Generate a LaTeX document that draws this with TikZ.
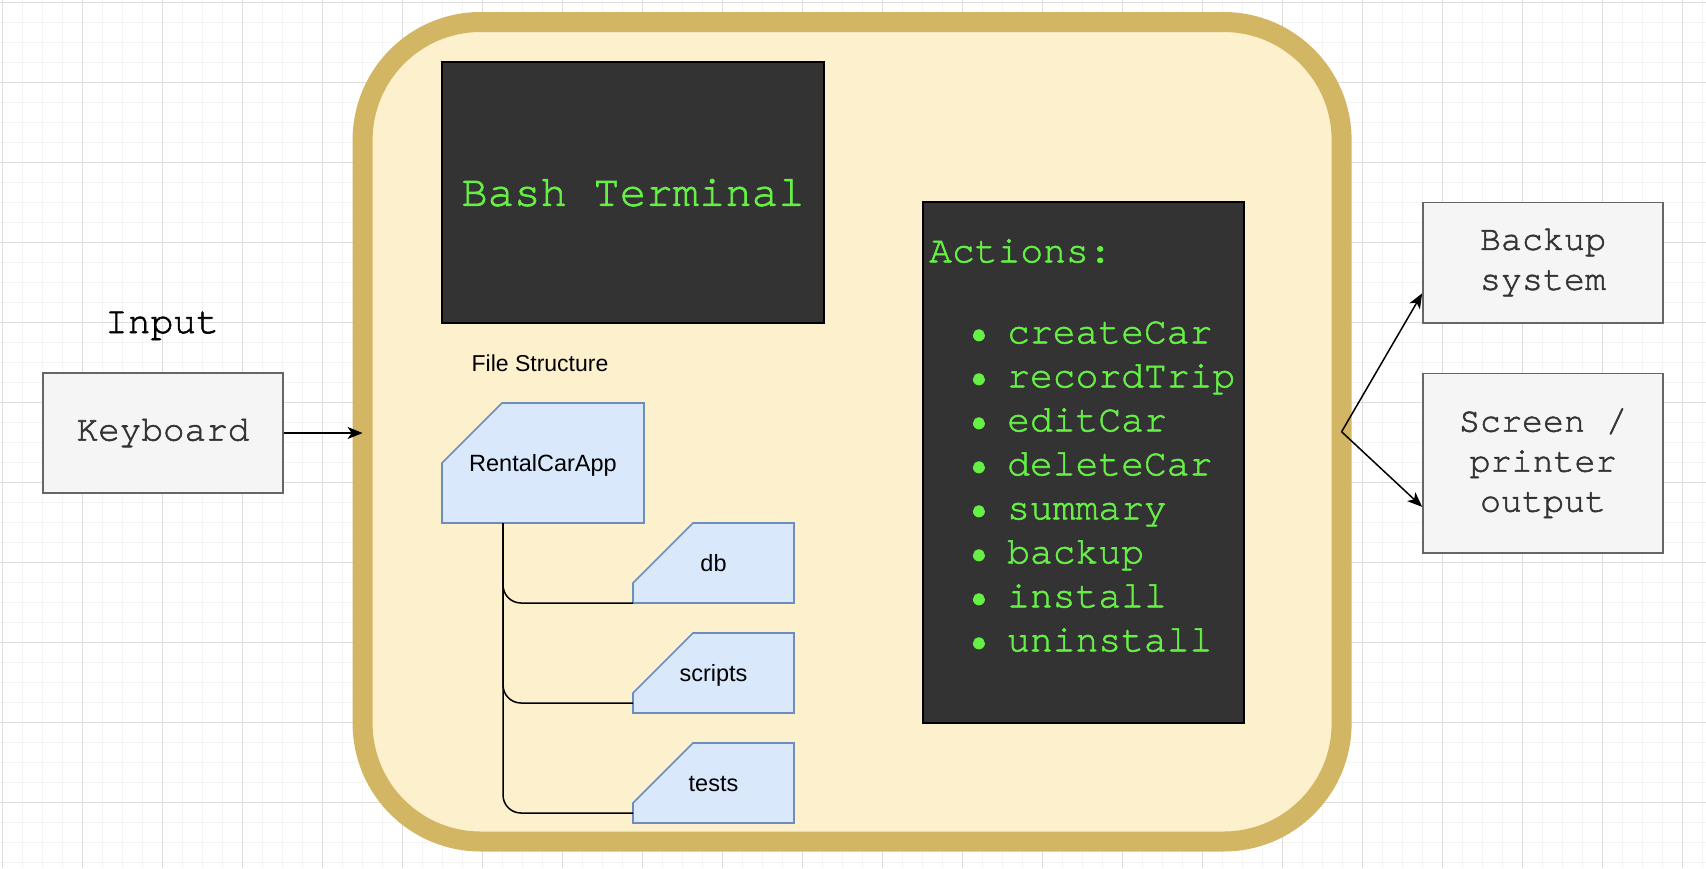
\documentclass[tikz,border=0pt]{standalone}
\usepackage{fontspec}
\setmainfont{Liberation Sans}
\newfontfamily\monofnt[BoldFont=texgyrecursor-regular.otf, BoldFeatures={FakeBold=1.5}]{texgyrecursor-regular.otf}
\usetikzlibrary{arrows.meta}
\definecolor{gridminor}{HTML}{F4F4F4}
\definecolor{gridmajor}{HTML}{DDDDDD}
\definecolor{contfill}{HTML}{FDF1CD}
\definecolor{contline}{HTML}{D3B664}
\definecolor{termfill}{HTML}{333333}
\definecolor{termgreen}{HTML}{66F046}
\definecolor{boxfill}{HTML}{F5F5F5}
\definecolor{boxline}{HTML}{666666}
\definecolor{boxtext}{HTML}{333333}
\definecolor{cardfill}{HTML}{DAE8FC}
\definecolor{cardline}{HTML}{6C8EBF}
\pgfdeclarelayer{gridlayer}
\pgfdeclarelayer{cardlayer}
\pgfsetlayers{gridlayer,cardlayer,main}
\begin{document}
\begin{tikzpicture}[x=1pt,y=-1pt,
  container/.style={draw=contline, fill=contfill, line width=20pt, rounded corners=118pt,
    minimum width=979pt, minimum height=819.5pt, inner sep=0pt, outer sep=0pt},
  term/.style={draw=black, fill=termfill, line width=2pt, inner sep=0pt, text=termgreen},
  greybox/.style={draw=boxline, fill=boxfill, line width=1.6pt, minimum width=240pt,
    text=boxtext, inner sep=0pt, align=center},
  card/.style={minimum width=161pt, minimum height=80pt, inner sep=0pt, outer sep=0pt,
    text height=17pt, text depth=0pt, font=\fontsize{23.5}{28}\selectfont},
  cardshape/.style={fill=cardfill, draw=cardline, line width=1.6pt, line join=miter},
  acttext/.style={inner sep=0pt, text=termgreen, font=\monofnt\bfseries\fontsize{38}{44}\selectfont},
  treeline/.style={draw=black, line width=1.5pt, rounded corners=18pt},
  arrowline/.style={draw=black, line width=1.5pt, -{Stealth[length=15pt,width=12pt,inset=4pt]}}
]
\useasboundingbox (0,0) rectangle (1706,868);
\begin{pgfonlayer}{gridlayer}
\fill[white] (0,0) rectangle (1706,868);
\foreach \i in {0,...,85} \draw[gridminor, line width=1.6pt] ({2.3+20*\i},0) -- ({2.3+20*\i},868);
\foreach \i in {0,...,43} \draw[gridminor, line width=1.6pt] (0,{2.3+20*\i}) -- (1706,{2.3+20*\i});
\foreach \i in {0,...,21} \draw[gridmajor, line width=1pt] ({2.3+80*\i},0) -- ({2.3+80*\i},868);
\foreach \i in {0,...,10} \draw[gridmajor, line width=1pt] (0,{2.3+80*\i}) -- (1706,{2.3+80*\i});
\node[container] (box) at (852.1,431.75) {};
\end{pgfonlayer}

% terminal
\node[term, minimum width=381.4pt, minimum height=260.7pt,
  font=\monofnt\bfseries\fontsize{44}{50}\selectfont] (term) at (633,192.7) {Bash Terminal};

% actions
\node[term, minimum width=321pt, minimum height=521pt] (actions) at (1083.1,462.8) {};
\node[acttext, anchor=base west] (acthead) at (929,262.3) {Actions:};
\foreach \t [count=\i from 0] in {createCar,recordTrip,editCar,deleteCar,summary,backup,install,uninstall}
  \node[acttext, anchor=base west] (act\i) at (1007,{343.3+44*\i})
    {\llap{\makebox[22.8pt][c]{•}\hspace{16.9pt}}\t};

% input side
\node[inner sep=0pt, anchor=base, font=\monofnt\bfseries\fontsize{38}{44}\selectfont] (input) at (162,333) {Input};
\node[greybox, minimum height=120pt, font=\monofnt\bfseries\fontsize{36}{40}\selectfont] (kbd) at (163,433) {Keyboard};

% output side
\node[greybox, minimum height=120.4pt, font=\monofnt\bfseries\fontsize{35}{40}\selectfont] (backup) at (1543,262.5) {Backup\\system};
\node[greybox, minimum height=179.7pt, font=\monofnt\bfseries\fontsize{35}{40}\selectfont] (screen) at (1543,463.2) {Screen /\\printer\\output};

% file structure
\node[inner sep=0pt, anchor=base, font=\fontsize{23}{28}\selectfont] (fs) at (540,371.7) {File Structure};
\node[card, minimum width=202pt, minimum height=120pt] (app) at (543,463) {RentalCarApp};
\node[card] (db) at (713.5,563) {db};
\node[card] (scripts) at (713.5,673) {scripts};
\node[card] (tests) at (713.5,783) {tests};
\begin{pgfonlayer}{cardlayer}
\foreach \n in {app,db,scripts,tests}
  \filldraw[cardshape] ([yshift=-60pt]\n.north west) -- ([xshift=60pt]\n.north west)
    -- (\n.north east) -- (\n.south east) -- (\n.south west) -- cycle;
\end{pgfonlayer}
\draw[treeline] ([xshift=61pt]app.south west) |- (db.south west);
\draw[treeline] ([xshift=61pt]app.south west) |- ([yshift=10pt]scripts.south west);
\draw[treeline] ([xshift=61pt]app.south west) |- ([yshift=10pt]tests.south west);

% connectors
\draw[arrowline] (kbd.east) -- (kbd.east -| box.west);
\draw[arrowline] (box.east) -- ([yshift=-30.8pt]backup.west);
\draw[arrowline] (box.east) -- ([yshift=-43.7pt]screen.west);
\end{tikzpicture}
\end{document}
